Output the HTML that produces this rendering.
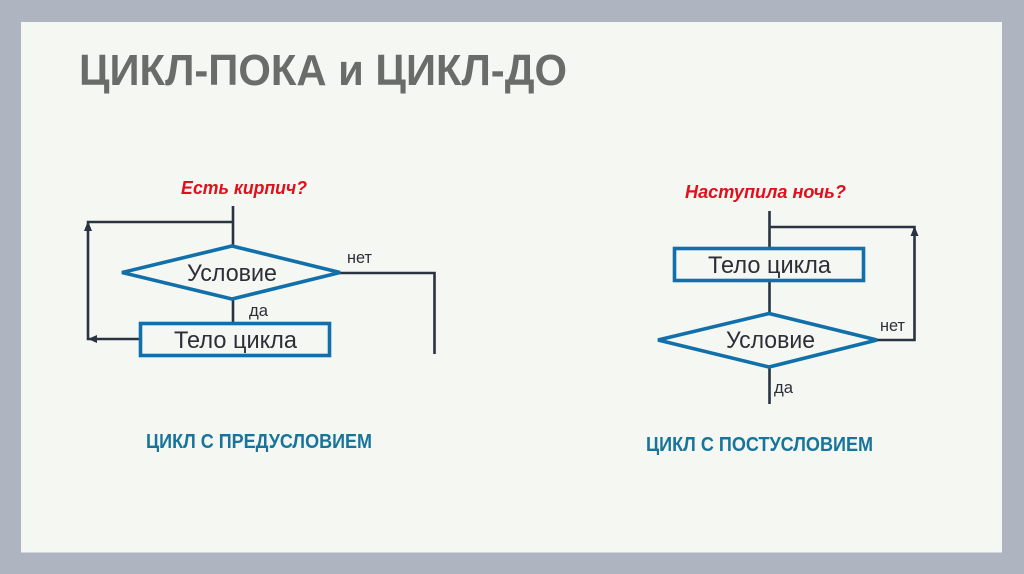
<!DOCTYPE html>
<html lang="ru">
<head>
<meta charset="utf-8">
<title>ЦИКЛ-ПОКА и ЦИКЛ-ДО</title>
<style>
html,body{margin:0;padding:0;width:1024px;height:574px;overflow:hidden;background:#aeb5c0}
svg{display:block}
text{font-family:"Liberation Sans",sans-serif}
.n{font-size:24.5px;fill:#2b2f38}
.s{font-size:16.5px;fill:#2b2f38}
.q{font-size:18.5px;font-weight:bold;font-style:italic;fill:#e0101c}
.c{font-size:20px;font-weight:bold;fill:#17749a}
.l{stroke:#2a3342;stroke-width:2.6;fill:none}
.b{stroke:#1170aa;stroke-width:3.6;fill:none}
</style>
</head>
<body>
<svg width="1024" height="574" viewBox="0 0 1024 574" xmlns="http://www.w3.org/2000/svg">
<rect width="1024" height="574" fill="#aeb5c0"/>
<rect x="21" y="22" width="981" height="530.500" fill="#f5f7f3"/>
<text x="79" y="85" font-size="44" font-weight="bold" fill="#6a6c69" textLength="488" lengthAdjust="spacingAndGlyphs">ЦИКЛ-ПОКА и ЦИКЛ-ДО</text>

<text class="q" x="181" y="194" textLength="126" lengthAdjust="spacingAndGlyphs">Есть кирпич?</text>
<path class="l" d="M233 206V246M233 222H88V339H140"/>
<path d="M88 221l-4 10h8z" fill="#2a3342"/>
<path d="M88 339l9-4v8z" fill="#2a3342"/>
<path class="l" d="M233 299V323M340 273H434.500V354"/>
<polygon class="b" points="122,272.500 232,246 340,272.500 232,299"/>
<rect class="b" x="140.500" y="323.500" width="189" height="32"/>
<text class="n" x="187" y="281" textLength="90" lengthAdjust="spacingAndGlyphs">Условие</text>
<text class="n" x="174" y="348" textLength="123" lengthAdjust="spacingAndGlyphs">Тело цикла</text>
<text class="s" x="347" y="263" textLength="25" lengthAdjust="spacingAndGlyphs">нет</text>
<text class="s" x="249" y="316" textLength="19" lengthAdjust="spacingAndGlyphs">да</text>
<text class="c" x="146" y="448" textLength="226" lengthAdjust="spacingAndGlyphs">ЦИКЛ С ПРЕДУСЛОВИЕМ</text>

<text class="q" x="685" y="198" textLength="161" lengthAdjust="spacingAndGlyphs">Наступила ночь?</text>
<path class="l" d="M769.500 211V248M769.500 227H914.500V340H877M769.500 281V313M769.500 367V404"/>
<path d="M914.500 226l-4 10h8z" fill="#2a3342"/>
<rect class="b" x="674.500" y="248.500" width="189" height="32"/>
<polygon class="b" points="658,340 769,313.500 877,340 769,367"/>
<text class="n" x="708" y="273" textLength="123" lengthAdjust="spacingAndGlyphs">Тело цикла</text>
<text class="n" x="726" y="348" textLength="89" lengthAdjust="spacingAndGlyphs">Условие</text>
<text class="s" x="880" y="331" textLength="25" lengthAdjust="spacingAndGlyphs">нет</text>
<text class="s" x="774" y="393" textLength="19" lengthAdjust="spacingAndGlyphs">да</text>
<text class="c" x="646" y="451" textLength="227" lengthAdjust="spacingAndGlyphs">ЦИКЛ С ПОСТУСЛОВИЕМ</text>
</svg>
</body>
</html>
